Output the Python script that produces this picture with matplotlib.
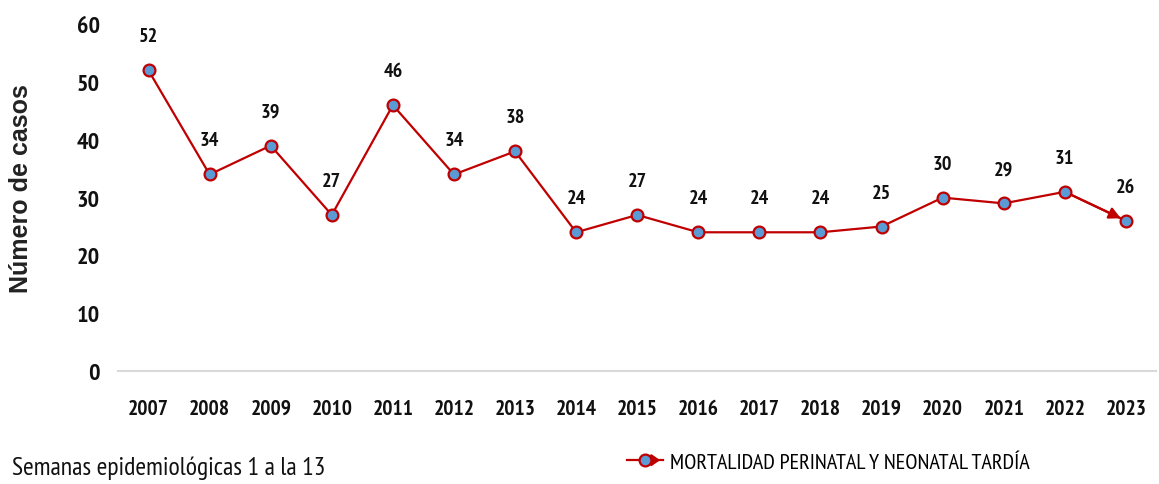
import matplotlib
matplotlib.use("Agg")
import matplotlib.pyplot as plt
from matplotlib.lines import Line2D
from matplotlib.legend_handler import HandlerLine2D
from matplotlib.patches import FancyArrowPatch

years = ["2007", "2008", "2009", "2010", "2011", "2012", "2013", "2014", "2015",
         "2016", "2017", "2018", "2019", "2020", "2021", "2022", "2023"]
cases = [52, 34, 39, 27, 46, 34, 38, 24, 27, 24, 24, 24, 25, 30, 29, 31, 26]
yticks = [0, 10, 20, 30, 40, 50, 60]
series_name = "MORTALIDAD PERINATAL Y NEONATAL TARDÍA"
note = "Semanas epidemiológicas 1 a la 13"
ylabel = "Número de casos"

NARROW = ["PT Sans Narrow", "Roboto Condensed", "DejaVu Sans"]
RED = "#C00000"
BLUE = "#5B9BD5"
TXT = "#111111"

fig = plt.figure(figsize=(11.59, 4.85), dpi=100)
ax = fig.add_axes([0.1018, 0.233, 0.896, 0.715])

x = list(range(len(years)))
ax.plot(x, cases, color=RED, lw=1.6, zorder=2)
ax.plot(x, cases, ls="none", marker="o", ms=8.5, mfc=BLUE, mec=RED, mew=1.6, zorder=4)
# arrowhead on the last segment
ax.annotate("", xy=(x[-1], cases[-1]), xytext=(x[-2], cases[-2]),
            arrowprops=dict(arrowstyle="-|>,head_length=0.7,head_width=0.35",
                            color=RED, lw=1.6, shrinkA=0, shrinkB=4),
            zorder=3)

for xi, v in zip(x, cases):
    ax.annotate(str(v), (xi, v), xytext=(0, 18), textcoords="offset points",
                ha="center", va="bottom", fontsize=14.5, fontweight="bold",
                family=NARROW, color=TXT)

ax.set_xlim(-0.5, len(years) - 0.5)
ax.set_ylim(0, 60)
ax.set_xticks(x)
ax.set_xticklabels(years, fontsize=15.5, fontweight="bold", family=NARROW, color=TXT)
ax.set_yticks(yticks)
ax.set_yticklabels([str(t) for t in yticks], fontsize=17.5, fontweight="bold",
                   family=NARROW, color=TXT)
ax.tick_params(axis="both", length=0)
ax.tick_params(axis="x", pad=20)
ax.tick_params(axis="y", pad=13)
for s in ["top", "right", "left"]:
    ax.spines[s].set_visible(False)
ax.spines["bottom"].set_color("#D9D9D9")
ax.spines["bottom"].set_linewidth(1.5)

ax.set_ylabel(ylabel, fontsize=18, fontweight="bold", family=["Liberation Sans", "DejaVu Sans"],
              color="#222222")
ax.yaxis.set_label_coords(-0.082, 0.53)


class ArrowLineHandler(HandlerLine2D):
    def create_artists(self, legend, orig_handle, xdescent, ydescent, width, height, fontsize, trans):
        y = height / 2 - ydescent
        line = Line2D([-xdescent, width - xdescent], [y, y], color=RED, lw=1.6)
        line.set_transform(trans)
        mk = Line2D([-xdescent + width * 0.5], [y], ls="none", marker="o", ms=8.5,
                    mfc=BLUE, mec=RED, mew=1.6)
        mk.set_transform(trans)
        arr = FancyArrowPatch((-xdescent + width * 0.62, y), (-xdescent + width, y),
                              arrowstyle="-|>,head_length=5,head_width=3.5", color=RED,
                              lw=1.6, mutation_scale=1, transform=trans)
        return [line, arr, mk]


h = Line2D([], [], color=RED)
fig.legend([h], [series_name], handler_map={Line2D: ArrowLineHandler()},
           loc="center left", bbox_to_anchor=(0.524, 0.045), frameon=False,
           prop={"family": NARROW, "size": 16}, handlelength=1.6, handletextpad=0.3)

fig.text(0.010, 0.035, note, fontsize=18.5, family=NARROW, ha="left", va="center", color=TXT)

fig.savefig("out.png", dpi=100)
